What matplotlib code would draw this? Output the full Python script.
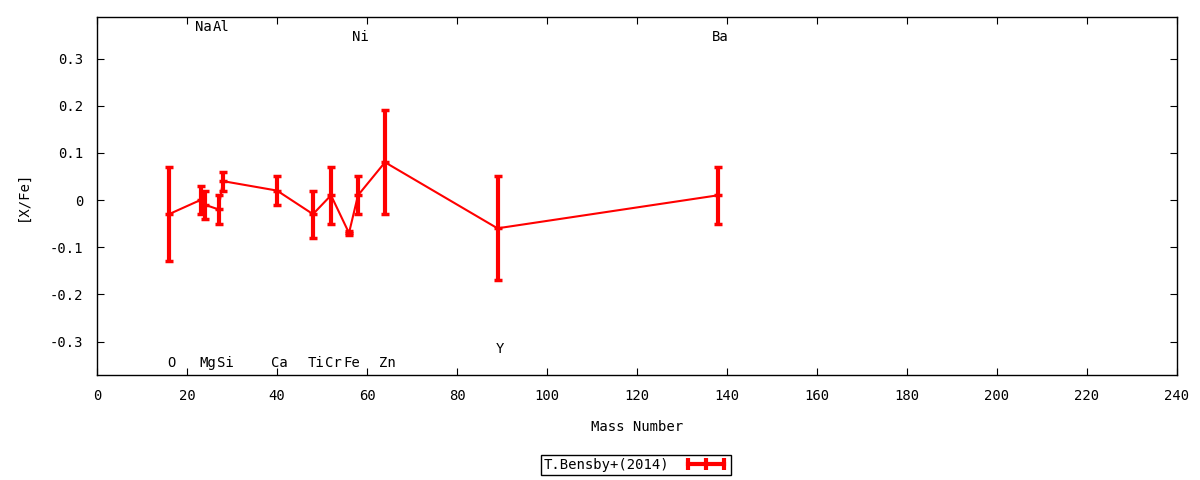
import matplotlib
matplotlib.use("Agg")
import matplotlib.pyplot as plt
from matplotlib.lines import Line2D
from matplotlib.ticker import FuncFormatter, MultipleLocator

# [X/Fe] abundances vs mass number
elements = ["O", "Na", "Mg", "Al", "Si", "Ca", "Ti", "Cr", "Fe", "Ni", "Zn", "Y", "Ba"]
mass_number = [16, 23, 24, 27, 28, 40, 48, 52, 56, 58, 64, 89, 138]
x_fe = [-0.03, 0.00, -0.01, -0.02, 0.04, 0.02, -0.03, 0.01, -0.07, 0.01, 0.08, -0.06, 0.01]
x_fe_err = [0.10, 0.03, 0.03, 0.03, 0.02, 0.03, 0.05, 0.06, 0.005, 0.04, 0.11, 0.11, 0.06]

# element label rows (top / bottom of the frame)
label_row = {
    "O": -0.345, "Na": 0.366, "Mg": -0.345, "Al": 0.366, "Si": -0.345,
    "Ca": -0.345, "Ti": -0.345, "Cr": -0.345, "Fe": -0.345, "Ni": 0.345,
    "Zn": -0.345, "Y": -0.316, "Ba": 0.345,
}

plt.rcParams["font.family"] = ["DejaVu Sans Mono"]
plt.rcParams["font.size"] = 10

fig = plt.figure(figsize=(12, 4.8), dpi=100)
ax = fig.add_axes([97 / 1200, 1 - 375 / 480, 1080 / 1200, 358 / 480])

ax.errorbar(
    mass_number, x_fe, yerr=x_fe_err,
    color="red", linewidth=1.5, elinewidth=3, capsize=3, capthick=2.5,
    marker="_", markersize=6, markeredgewidth=2.5,
)

for name, mass in zip(elements, mass_number):
    ax.text(mass + 0.6, label_row[name], name, ha="center", va="center", fontsize=10)

ax.set_xlim(0, 240)
ax.set_ylim(-0.371, 0.388)
ax.xaxis.set_major_locator(MultipleLocator(20))
ax.yaxis.set_major_locator(MultipleLocator(0.1))
ax.yaxis.set_major_formatter(FuncFormatter(lambda v, _: f"{v:g}" if abs(v) > 1e-9 else "0"))
ax.tick_params(direction="in", top=True, right=True, length=5, labelsize=10, pad=10)
for spine in ax.spines.values():
    spine.set_linewidth(1)

ax.set_xlabel("Mass Number", fontsize=10, labelpad=12)
ax.set_ylabel("[X/Fe]", fontsize=10, labelpad=14)

handle = Line2D([], [], color="red", linewidth=3, marker="|", markersize=9,
                markeredgewidth=3)
fig.legend(
    [handle], ["T.Bensby+(2014)"], loc="center",
    bbox_to_anchor=(636 / 1200, 1 - 465 / 480), numpoints=3, markerfirst=False,
    fancybox=False, framealpha=1, edgecolor="black", fontsize=10,
    handlelength=3.2, borderpad=0.2, borderaxespad=0, handletextpad=1.0,
)
fig.legends[0].get_frame().set_linewidth(1)
fig.legends[0]._legend_box.sep = 0

fig.savefig("out.png")
